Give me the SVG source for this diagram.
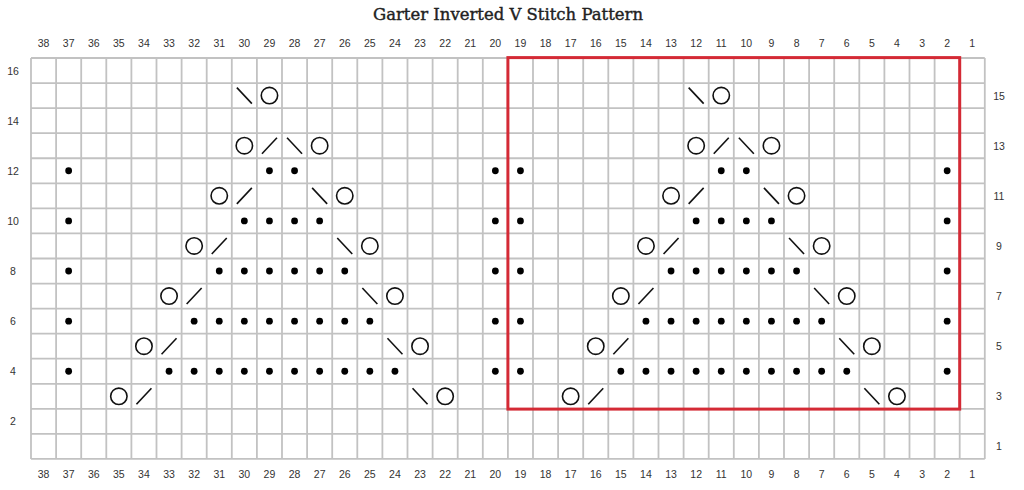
<svg xmlns="http://www.w3.org/2000/svg" xmlns:xlink="http://www.w3.org/1999/xlink" width="1024" height="490" viewBox="0 0 1024 490">
<style>
.title{font-family:"DejaVu Serif","Liberation Serif",serif;font-size:16.5px;fill:#222;stroke:#222;stroke-width:0.4;text-anchor:middle}
.lbl{font-family:"Liberation Sans","Open Sans",sans-serif;font-size:10.5px;fill:#333;text-anchor:middle}
.grid{fill:none;stroke:#c2c2c2;stroke-width:1.8}
.frame{fill:none;stroke:#d42a35;stroke-width:3}
.sym{fill:none;stroke:#111;stroke-width:1.6}
.dot{fill:#000}
</style>
<defs>
<circle id="yo" class="sym" cx="0" cy="0" r="8.2"/>
<line id="k2tog" class="sym" x1="-7.5" y1="8" x2="7.5" y2="-8"/>
<line id="ssk" class="sym" x1="-7.5" y1="-8" x2="7.5" y2="8"/>
<circle id="p" class="dot" cx="0" cy="0" r="3.4"/>
</defs>
<rect width="1024" height="490" fill="#fff"/>
<text class="title" x="508" y="19.5" textLength="270" lengthAdjust="spacingAndGlyphs">Garter Inverted V Stitch Pattern</text>

<g id="grid">
<path class="grid" d="M31 58V459M56.1 58V459M81.2 58V459M106.3 58V459M131.4 58V459M156.5 58V459M181.6 58V459M206.7 58V459M231.8 58V459M256.9 58V459M282 58V459M307.1 58V459M332.2 58V459M357.3 58V459M382.4 58V459M407.5 58V459M432.6 58V459M457.7 58V459M482.8 58V459M507.9 58V459M533 58V459M558.1 58V459M583.2 58V459M608.3 58V459M633.4 58V459M658.5 58V459M683.6 58V459M708.7 58V459M733.8 58V459M758.9 58V459M784 58V459M809.1 58V459M834.2 58V459M859.3 58V459M884.4 58V459M909.5 58V459M934.6 58V459M959.7 58V459M984.8 58V459M31 58H984.8M31 83.06H984.8M31 108.12H984.8M31 133.18H984.8M31 158.24H984.8M31 183.3H984.8M31 208.36H984.8M31 233.42H984.8M31 258.48H984.8M31 283.54H984.8M31 308.6H984.8M31 333.66H984.8M31 358.72H984.8M31 383.78H984.8M31 408.84H984.8M31 433.9H984.8M31 458.96H984.8"/>
</g>

<g id="col-labels-top">
<text class="lbl" x="43.55" y="47">38</text><text class="lbl" x="68.65" y="47">37</text><text class="lbl" x="93.75" y="47">36</text><text class="lbl" x="118.85" y="47">35</text><text class="lbl" x="143.95" y="47">34</text><text class="lbl" x="169.05" y="47">33</text><text class="lbl" x="194.15" y="47">32</text><text class="lbl" x="219.25" y="47">31</text><text class="lbl" x="244.35" y="47">30</text><text class="lbl" x="269.45" y="47">29</text><text class="lbl" x="294.55" y="47">28</text><text class="lbl" x="319.65" y="47">27</text><text class="lbl" x="344.75" y="47">26</text><text class="lbl" x="369.85" y="47">25</text><text class="lbl" x="394.95" y="47">24</text><text class="lbl" x="420.05" y="47">23</text><text class="lbl" x="445.15" y="47">22</text><text class="lbl" x="470.25" y="47">21</text><text class="lbl" x="495.35" y="47">20</text><text class="lbl" x="520.45" y="47">19</text><text class="lbl" x="545.55" y="47">18</text><text class="lbl" x="570.65" y="47">17</text><text class="lbl" x="595.75" y="47">16</text><text class="lbl" x="620.85" y="47">15</text><text class="lbl" x="645.95" y="47">14</text><text class="lbl" x="671.05" y="47">13</text><text class="lbl" x="696.15" y="47">12</text><text class="lbl" x="721.25" y="47">11</text><text class="lbl" x="746.35" y="47">10</text><text class="lbl" x="771.45" y="47">9</text><text class="lbl" x="796.55" y="47">8</text><text class="lbl" x="821.65" y="47">7</text><text class="lbl" x="846.75" y="47">6</text><text class="lbl" x="871.85" y="47">5</text><text class="lbl" x="896.95" y="47">4</text><text class="lbl" x="922.05" y="47">3</text><text class="lbl" x="947.15" y="47">2</text><text class="lbl" x="972.25" y="47">1</text>
</g>
<g id="col-labels-bottom">
<text class="lbl" x="43.55" y="478">38</text><text class="lbl" x="68.65" y="478">37</text><text class="lbl" x="93.75" y="478">36</text><text class="lbl" x="118.85" y="478">35</text><text class="lbl" x="143.95" y="478">34</text><text class="lbl" x="169.05" y="478">33</text><text class="lbl" x="194.15" y="478">32</text><text class="lbl" x="219.25" y="478">31</text><text class="lbl" x="244.35" y="478">30</text><text class="lbl" x="269.45" y="478">29</text><text class="lbl" x="294.55" y="478">28</text><text class="lbl" x="319.65" y="478">27</text><text class="lbl" x="344.75" y="478">26</text><text class="lbl" x="369.85" y="478">25</text><text class="lbl" x="394.95" y="478">24</text><text class="lbl" x="420.05" y="478">23</text><text class="lbl" x="445.15" y="478">22</text><text class="lbl" x="470.25" y="478">21</text><text class="lbl" x="495.35" y="478">20</text><text class="lbl" x="520.45" y="478">19</text><text class="lbl" x="545.55" y="478">18</text><text class="lbl" x="570.65" y="478">17</text><text class="lbl" x="595.75" y="478">16</text><text class="lbl" x="620.85" y="478">15</text><text class="lbl" x="645.95" y="478">14</text><text class="lbl" x="671.05" y="478">13</text><text class="lbl" x="696.15" y="478">12</text><text class="lbl" x="721.25" y="478">11</text><text class="lbl" x="746.35" y="478">10</text><text class="lbl" x="771.45" y="478">9</text><text class="lbl" x="796.55" y="478">8</text><text class="lbl" x="821.65" y="478">7</text><text class="lbl" x="846.75" y="478">6</text><text class="lbl" x="871.85" y="478">5</text><text class="lbl" x="896.95" y="478">4</text><text class="lbl" x="922.05" y="478">3</text><text class="lbl" x="947.15" y="478">2</text><text class="lbl" x="972.25" y="478">1</text>
</g>
<g id="row-labels">
<text class="lbl" x="13" y="74.5">16</text><text class="lbl" x="13" y="124.6">14</text><text class="lbl" x="13" y="174.8">12</text><text class="lbl" x="13" y="224.9">10</text><text class="lbl" x="13" y="275">8</text><text class="lbl" x="13" y="325.1">6</text><text class="lbl" x="13" y="375.3">4</text><text class="lbl" x="13" y="425.4">2</text>
<text class="lbl" x="999" y="99.6">15</text><text class="lbl" x="999" y="149.7">13</text><text class="lbl" x="999" y="199.8">11</text><text class="lbl" x="999" y="250">9</text><text class="lbl" x="999" y="300.1">7</text><text class="lbl" x="999" y="350.2">5</text><text class="lbl" x="999" y="400.3">3</text><text class="lbl" x="999" y="450.4">1</text>
</g>

<g id="symbols">
<!-- row 15 -->
<use href="#ssk" x="244.35" y="95.59"/><use href="#yo" x="269.45" y="95.59"/>
<use href="#ssk" x="696.15" y="95.59"/><use href="#yo" x="721.25" y="95.59"/>
<!-- row 13 -->
<use href="#yo" x="244.35" y="145.71"/><use href="#k2tog" x="269.45" y="145.71"/><use href="#ssk" x="294.55" y="145.71"/><use href="#yo" x="319.65" y="145.71"/>
<use href="#yo" x="696.15" y="145.71"/><use href="#k2tog" x="721.25" y="145.71"/><use href="#ssk" x="746.35" y="145.71"/><use href="#yo" x="771.45" y="145.71"/>
<!-- row 12 -->
<use href="#p" x="68.65" y="170.77"/><use href="#p" x="269.45" y="170.77"/><use href="#p" x="294.55" y="170.77"/><use href="#p" x="495.35" y="170.77"/><use href="#p" x="520.45" y="170.77"/><use href="#p" x="721.25" y="170.77"/><use href="#p" x="746.35" y="170.77"/><use href="#p" x="947.15" y="170.77"/>
<!-- row 11 -->
<use href="#yo" x="219.25" y="195.83"/><use href="#k2tog" x="244.35" y="195.83"/><use href="#ssk" x="319.65" y="195.83"/><use href="#yo" x="344.75" y="195.83"/>
<use href="#yo" x="671.05" y="195.83"/><use href="#k2tog" x="696.15" y="195.83"/><use href="#ssk" x="771.45" y="195.83"/><use href="#yo" x="796.55" y="195.83"/>
<!-- row 10 -->
<use href="#p" x="68.65" y="220.89"/><use href="#p" x="244.35" y="220.89"/><use href="#p" x="269.45" y="220.89"/><use href="#p" x="294.55" y="220.89"/><use href="#p" x="319.65" y="220.89"/><use href="#p" x="495.35" y="220.89"/><use href="#p" x="520.45" y="220.89"/><use href="#p" x="696.15" y="220.89"/><use href="#p" x="721.25" y="220.89"/><use href="#p" x="746.35" y="220.89"/><use href="#p" x="771.45" y="220.89"/><use href="#p" x="947.15" y="220.89"/>
<!-- row 9 -->
<use href="#yo" x="194.15" y="245.95"/><use href="#k2tog" x="219.25" y="245.95"/><use href="#ssk" x="344.75" y="245.95"/><use href="#yo" x="369.85" y="245.95"/>
<use href="#yo" x="645.95" y="245.95"/><use href="#k2tog" x="671.05" y="245.95"/><use href="#ssk" x="796.55" y="245.95"/><use href="#yo" x="821.65" y="245.95"/>
<!-- row 8 -->
<use href="#p" x="68.65" y="271.01"/><use href="#p" x="219.25" y="271.01"/><use href="#p" x="244.35" y="271.01"/><use href="#p" x="269.45" y="271.01"/><use href="#p" x="294.55" y="271.01"/><use href="#p" x="319.65" y="271.01"/><use href="#p" x="344.75" y="271.01"/><use href="#p" x="495.35" y="271.01"/><use href="#p" x="520.45" y="271.01"/><use href="#p" x="671.05" y="271.01"/><use href="#p" x="696.15" y="271.01"/><use href="#p" x="721.25" y="271.01"/><use href="#p" x="746.35" y="271.01"/><use href="#p" x="771.45" y="271.01"/><use href="#p" x="796.55" y="271.01"/><use href="#p" x="947.15" y="271.01"/>
<!-- row 7 -->
<use href="#yo" x="169.05" y="296.07"/><use href="#k2tog" x="194.15" y="296.07"/><use href="#ssk" x="369.85" y="296.07"/><use href="#yo" x="394.95" y="296.07"/>
<use href="#yo" x="620.85" y="296.07"/><use href="#k2tog" x="645.95" y="296.07"/><use href="#ssk" x="821.65" y="296.07"/><use href="#yo" x="846.75" y="296.07"/>
<!-- row 6 -->
<use href="#p" x="68.65" y="321.13"/><use href="#p" x="194.15" y="321.13"/><use href="#p" x="219.25" y="321.13"/><use href="#p" x="244.35" y="321.13"/><use href="#p" x="269.45" y="321.13"/><use href="#p" x="294.55" y="321.13"/><use href="#p" x="319.65" y="321.13"/><use href="#p" x="344.75" y="321.13"/><use href="#p" x="369.85" y="321.13"/><use href="#p" x="495.35" y="321.13"/><use href="#p" x="520.45" y="321.13"/><use href="#p" x="645.95" y="321.13"/><use href="#p" x="671.05" y="321.13"/><use href="#p" x="696.15" y="321.13"/><use href="#p" x="721.25" y="321.13"/><use href="#p" x="746.35" y="321.13"/><use href="#p" x="771.45" y="321.13"/><use href="#p" x="796.55" y="321.13"/><use href="#p" x="821.65" y="321.13"/><use href="#p" x="947.15" y="321.13"/>
<!-- row 5 -->
<use href="#yo" x="143.95" y="346.19"/><use href="#k2tog" x="169.05" y="346.19"/><use href="#ssk" x="394.95" y="346.19"/><use href="#yo" x="420.05" y="346.19"/>
<use href="#yo" x="595.75" y="346.19"/><use href="#k2tog" x="620.85" y="346.19"/><use href="#ssk" x="846.75" y="346.19"/><use href="#yo" x="871.85" y="346.19"/>
<!-- row 4 -->
<use href="#p" x="68.65" y="371.25"/><use href="#p" x="169.05" y="371.25"/><use href="#p" x="194.15" y="371.25"/><use href="#p" x="219.25" y="371.25"/><use href="#p" x="244.35" y="371.25"/><use href="#p" x="269.45" y="371.25"/><use href="#p" x="294.55" y="371.25"/><use href="#p" x="319.65" y="371.25"/><use href="#p" x="344.75" y="371.25"/><use href="#p" x="369.85" y="371.25"/><use href="#p" x="394.95" y="371.25"/><use href="#p" x="495.35" y="371.25"/><use href="#p" x="520.45" y="371.25"/><use href="#p" x="620.85" y="371.25"/><use href="#p" x="645.95" y="371.25"/><use href="#p" x="671.05" y="371.25"/><use href="#p" x="696.15" y="371.25"/><use href="#p" x="721.25" y="371.25"/><use href="#p" x="746.35" y="371.25"/><use href="#p" x="771.45" y="371.25"/><use href="#p" x="796.55" y="371.25"/><use href="#p" x="821.65" y="371.25"/><use href="#p" x="846.75" y="371.25"/><use href="#p" x="947.15" y="371.25"/>
<!-- row 3 -->
<use href="#yo" x="118.85" y="396.31"/><use href="#k2tog" x="143.95" y="396.31"/><use href="#ssk" x="420.05" y="396.31"/><use href="#yo" x="445.15" y="396.31"/>
<use href="#yo" x="570.65" y="396.31"/><use href="#k2tog" x="595.75" y="396.31"/><use href="#ssk" x="871.85" y="396.31"/><use href="#yo" x="896.95" y="396.31"/>
</g>

<g id="repeat-frame">
<rect class="frame" x="507.9" y="57.6" width="451.8" height="351.5"/>
</g>
</svg>
